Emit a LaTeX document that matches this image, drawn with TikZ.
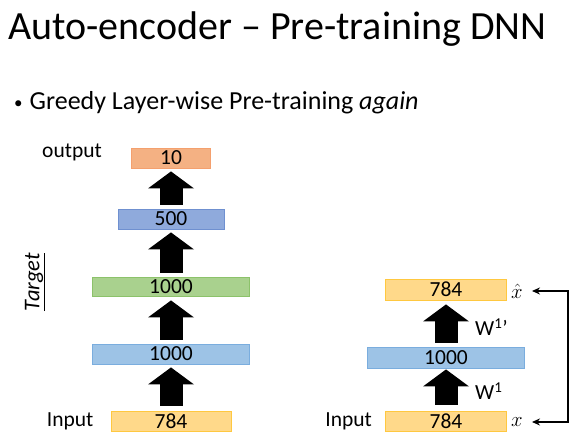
\documentclass[tikz,border=0pt]{standalone}
\usepackage{fontspec}
\setmainfont{Carlito}
\usetikzlibrary{arrows.meta,positioning}
\definecolor{outfill}{HTML}{F4B183}
\definecolor{outline}{HTML}{F4A06E}
\definecolor{bluefill}{HTML}{8FAADC}
\definecolor{blueline}{HTML}{6F90D0}
\definecolor{greenfill}{HTML}{A9D18E}
\definecolor{greenline}{HTML}{8CC26A}
\definecolor{skyfill}{HTML}{9DC3E6}
\definecolor{skyline}{HTML}{7AADDE}
\definecolor{goldfill}{HTML}{FFD98A}
\definecolor{goldline}{HTML}{FFC840}
\newcommand{\labfont}{\fontsize{21.5}{24}\selectfont}
\tikzset{
  layer/.style 2 args={draw=#2, fill=#1, line width=0.9pt, inner sep=0pt,
    minimum height=20pt, font=\labfont},
  fat/.style={line width=23pt, -{Triangle[length=17pt,width=46pt,line width=0pt]}},
  lab/.style={font=\labfont, inner sep=1pt},
}
\begin{document}
\begin{tikzpicture}[x=1pt, y=1pt]
\useasboundingbox (0,0) rectangle (579,438);
% title and bullet
\node[anchor=base west, inner sep=0pt, font=\fontsize{40}{44}\selectfont] (title) at (8,398) {Auto-encoder -- Pre-training DNN};
\node[anchor=base west, inner sep=0pt, font=\fontsize{26}{30}\selectfont] (bullet) at (14,328)
  {\raisebox{1pt}{\fontsize{17}{20}\selectfont\textbullet}\hspace{7pt}Greedy Layer-wise Pre-training \textit{again}};

% left: the deep network
\node[layer={goldfill}{goldline}, minimum width=120pt] (in) at (171,17) {784};
\node[layer={skyfill}{skyline}, minimum width=157pt] (h1) at (171,84) {1000};
\node[layer={greenfill}{greenline}, minimum width=157pt, minimum height=19pt] (h2) at (171,151.5) {1000};
\node[layer={bluefill}{blueline}, minimum width=106pt] (h3) at (171,219) {500};
\node[layer={outfill}{outline}, minimum width=79pt] (out) at (171,280) {10};
\draw[fat] ([yshift=5pt]in.north) -- ([yshift=-3pt]h1.south);
\draw[fat] ([yshift=4pt]h1.north) -- ([yshift=-4pt]h2.south);
\draw[fat] ([yshift=4pt]h2.north) -- ([yshift=-3pt]h3.south);
\draw[fat] ([yshift=4pt]h3.north) -- ([yshift=-3pt]out.south);
\node[lab, left=16pt of in] (inlab) {Input};
\node[lab] (outlab) at (72,286) {output};
\node[lab, rotate=90, font=\fontsize{22.5}{25}\selectfont\itshape] (target) at (35,156) {\underline{Target}};

% right: the auto-encoder
\node[layer={goldfill}{goldline}, minimum width=121pt] (x) at (446,17) {784};
\node[layer={skyfill}{skyline}, minimum width=157pt, minimum height=21pt] (code) at (446,80.5) {1000};
\node[layer={goldfill}{goldline}, minimum width=121pt, minimum height=21pt] (xhat) at (446,148.5) {784};
\draw[fat] ([yshift=6pt]x.north) -- ([yshift=-1pt]code.south);
\draw[fat] ([yshift=4pt]code.north) -- ([yshift=-4pt]xhat.south);
\node[lab, left=12pt of x] (xinlab) {Input};
\node[lab, anchor=west] (w1) at (474,47) {W\textsuperscript{1}};
\node[lab, anchor=west] (w1p) at (474,111) {W\textsuperscript{1}’};
\node[lab] (xl) at (517,16) {$x$};
\node[lab] (xhatl) at (517,147) {$\hat{x}$};
\draw[line width=1.4pt, {Stealth[length=8pt,width=7pt]}-{Stealth[length=8pt,width=7pt]}, shorten <=8pt, shorten >=8pt]
  (xhatl.east) -- ++(44,0) |- (xl.east);
\end{tikzpicture}
\end{document}
